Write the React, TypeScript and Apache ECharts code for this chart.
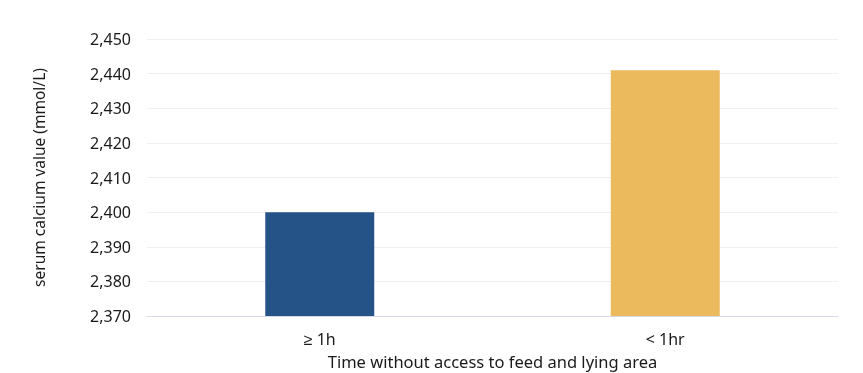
import React, { useEffect, useRef } from "react";
import * as echarts from "echarts";

const categories = ["≥ 1h", "< 1hr"];
const values = [2.4, 2.441];
const colors = ["#255388", "#EBBA5C"];
const yMin = 2.37;
const yMax = 2.45;
const yInterval = 0.01;
const xAxisName = "Time without access to feed and lying area";
const yAxisName = "serum calcium value (mmol/L)";

export default function App() {
  const ref = useRef<HTMLDivElement>(null);
  useEffect(() => {
    if (!ref.current) return;
    const chart = echarts.init(ref.current, null, { renderer: "svg" });
    const font = "Noto Sans, sans-serif";
    chart.setOption({
      animation: false,
      textStyle: { fontFamily: font },
      grid: { left: 147, right: 25, top: 39, bottom: 57, outerBoundsMode: "none", containLabel: false },
      xAxis: {
        type: "category",
        data: categories,
        name: xAxisName,
        nameLocation: "middle",
        nameGap: 37,
        nameTextStyle: { color: "#1a1a1a", fontSize: 16.5, fontFamily: font },
        axisLine: { lineStyle: { color: "#d9d9e6", width: 1 } },
        axisTick: { show: false },
        axisLabel: { color: "#1a1a1a", fontSize: 16, margin: 15, fontFamily: font },
      },
      yAxis: {
        type: "value",
        min: yMin,
        max: yMax,
        interval: yInterval,
        name: yAxisName,
        nameLocation: "middle",
        nameGap: 100,
        nameTextStyle: { color: "#1a1a1a", fontSize: 15.5, fontFamily: font },
        axisLine: { show: false },
        axisTick: { show: false },
        axisLabel: {
          color: "#1a1a1a",
          fontSize: 16,
          margin: 16,
          fontFamily: font,
          formatter: (v: number) => v.toFixed(3).replace(".", ","),
        },
        splitLine: { lineStyle: { color: "#f0f0f0", width: 1 } },
      },
      series: [
        {
          type: "bar",
          barWidth: 109,
          data: values.map((v, i) => ({ value: v, itemStyle: { color: colors[i] } })),
        },
      ],
    });
    return () => chart.dispose();
  }, []);
  return (
    <div
      ref={ref}
      style={{ position: "fixed", left: 0, top: 0, width: 863, height: 373 }}
    />
  );
}
